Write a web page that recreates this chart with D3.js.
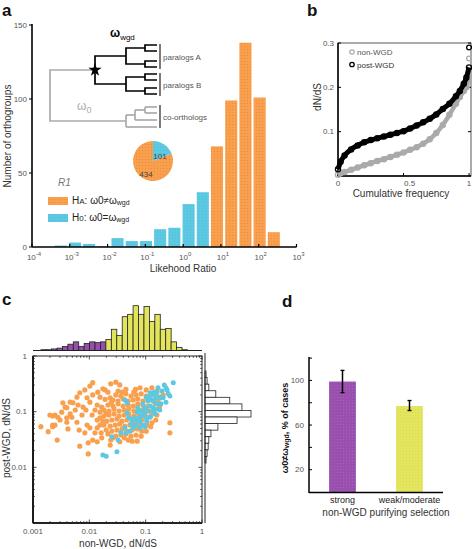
<!DOCTYPE html>
<html><head><meta charset="utf-8">
<script src="https://cdn.jsdelivr.net/npm/d3@7"></script>
<style>
body{margin:0;background:#fff}
svg{display:block;font-family:"Liberation Sans",Arial,Helvetica,sans-serif}
</style></head><body>
<svg id="fig" width="472" height="549"></svg>
<script>
// ---------------- DATA ----------------
// Panel a: likelihood-ratio histogram (bin centres in log10 LR)
const lrBinCentersLog10 = [-3.24,-2.864,-2.488,-2.112,-1.736,-1.36,-0.984,-0.608,-0.232,0.144,0.52,0.896,1.272,1.648,2.024,2.4];
const lrCounts = [1,3,2,0.5,6,4,4,12,13,29,37,68,99,138,101,10];
const lrModel = ["H0","H0","H0","H0","H0","H0","H0","H0","H0","H0","H0","HA","HA","HA","HA","HA"];
const lrXTicksExp = [-4,-3,-2,-1,0,1,2,3];
const lrYTicks = [0,50,100,150];
const pieGroups = ["HA","H0"];
const pieCounts = [434,101];

// Panel b: cumulative distributions of dN/dS
const cumFreq   = [0,0.02,0.05,0.1,0.15,0.2,0.25,0.3,0.35,0.4,0.45,0.5,0.55,0.6,0.65,0.7,0.75,0.8,0.85,0.9,0.93,0.96,0.98,1];
const postWgdDnds = [0.015,0.032,0.046,0.06,0.069,0.076,0.081,0.085,0.089,0.093,0.097,0.101,0.107,0.114,0.121,0.129,0.139,0.151,0.163,0.18,0.192,0.208,0.222,0.245];
const nonWgdDnds  = [0.003,0.006,0.009,0.014,0.019,0.024,0.029,0.034,0.038,0.043,0.048,0.053,0.059,0.065,0.073,0.083,0.097,0.115,0.138,0.163,0.178,0.192,0.2,0.22];
const postWgdTop = [0.29];
const nonWgdTop  = [0.265];
const bXTicks = [0,0.5,1];
const bYTicks = [0.1,0.2,0.3];

// Panel c: scatter, [log10 non-WGD dN/dS, log10 post-WGD dN/dS]
const haPointsLog10 = [
[-1.53,-0.47],[-1.94,-0.48],[-1.76,-0.59],[-1.67,-0.65],[-2.17,-0.66],[-2.22,-0.74],[-2.34,-0.83],[-2.29,-0.84],
[-2.04,-0.75],[-1.99,-0.83],[-1.94,-0.70],[-2.11,-0.92],[-2.43,-0.92],[-2.49,-1.01],[-2.56,-1.10],[-2.61,-1.06],
[-2.70,-1.06],[-2.61,-1.24],[-2.65,-1.27],[-2.86,-1.27],[-2.40,-1.11],[-2.31,-1.10],[-2.04,-1.24],[-1.99,-1.29],
[-1.86,-1.15],[-1.81,-1.01],[-1.90,-0.97],[-1.72,-0.61],[-1.99,-0.54],[-2.47,-0.84],[-2.40,-0.93],[-2.65,-1.08],
[-2.34,-1.04],[-1.81,-0.74],[-1.86,-0.88],[-2.57,-1.51],[-2.40,-1.19],[-2.38,-1.31],[-2.17,-1.62],[-2.02,-1.56],
[-2.02,-1.76],[-1.90,-1.38],[-1.86,-1.54],[-1.79,-1.38],[-2.08,-1.38],[-1.94,-1.51],[-1.78,-1.47],[-1.58,-1.47],
[-1.31,-1.51],[-1.24,-1.53],[-1.15,-1.53],[-0.98,-1.24],[-0.57,-1.38],[-0.89,-1.20],[-0.57,-1.20],[-2.65,-1.24],
[-2.25,-0.97],[-2.13,-1.06],[-2.08,-0.61],[-1.85,-0.65],[-1.63,-0.75],[-1.42,-0.65],[-1.21,-0.65],[-1.10,-0.57],
[-0.99,-0.61],[-0.89,-0.57],[-0.80,-0.63],[-1.46,-0.52],[-1.62,-0.50],[-2.52,-1.15],[-2.22,-1.19],[-2.18,-1.33],
[-1.63,-1.60],[-1.46,-1.54],[-1.74,-1.24],[-1.95,-1.06],[-2.06,-0.97],[-2.20,-0.88],[-2.73,-1.36],[-0.69,-0.70],
[-1.53,-0.70],[-1.44,-0.72],[-1.35,-0.68],[-1.26,-0.72],[-1.17,-0.70],[-1.08,-0.68],[-0.99,-0.72],[-0.91,-0.68],[-0.82,-0.72],[-0.73,-0.74],
[-1.58,-0.79],[-1.49,-0.81],[-1.40,-0.77],[-1.31,-0.81],[-1.22,-0.79],[-1.14,-0.77],[-1.05,-0.81],[-0.96,-0.79],[-0.87,-0.81],[-0.78,-0.79],
[-1.67,-0.88],[-1.58,-0.90],[-1.49,-0.86],[-1.40,-0.90],[-1.31,-0.88],[-1.22,-0.90],[-1.14,-0.86],[-1.05,-0.88],[-0.96,-0.90],[-0.83,-0.86],[-0.75,-0.90],
[-1.74,-0.97],[-1.65,-0.99],[-1.56,-0.95],[-1.47,-0.99],[-1.38,-0.97],[-1.30,-0.95],[-1.21,-0.99],[-1.12,-0.97],[-1.03,-0.95],[-0.94,-0.99],[-0.85,-0.97],
[-1.74,-1.08],[-1.65,-1.06],[-1.56,-1.04],[-1.47,-1.08],[-1.38,-1.06],[-1.30,-1.04],[-1.21,-1.08],[-1.12,-1.06],[-1.01,-1.06],[-0.91,-1.08],
[-1.69,-1.17],[-1.60,-1.15],[-1.51,-1.13],[-1.42,-1.17],[-1.33,-1.15],[-1.24,-1.13],[-1.15,-1.17],[-1.07,-1.15],[-0.98,-1.13],
[-1.63,-1.26],[-1.54,-1.24],[-1.46,-1.22],[-1.37,-1.26],[-1.28,-1.24],[-1.19,-1.22],[-1.10,-1.26],[-1.01,-1.24],
[-1.60,-1.35],[-1.51,-1.33],[-1.42,-1.31],[-1.33,-1.35],[-1.24,-1.33],[-1.15,-1.31],[-1.07,-1.35],
[-1.53,-1.44],[-1.44,-1.42],[-1.35,-1.40],[-1.26,-1.44],[-1.17,-1.42],
[-1.81,-1.11],[-1.76,-1.17],[-1.81,-1.24],[-1.70,-1.33],[-1.67,-1.40],[-1.86,-1.29],[-1.62,-1.51],[-1.38,-1.47],
[-1.08,-1.44],[-0.99,-1.35],[-0.91,-1.27],[-0.82,-1.15],[-0.80,-1.06],[-1.70,-1.03],[-1.61,-0.83],[-1.35,-0.60],
[-1.18,-0.60],[-1.49,-0.63],[-1.72,-0.78],[-1.78,-0.92]
];
const h0PointsLog10 = [
[-0.51,-0.48],[-0.67,-0.52],[-0.62,-0.61],[-0.60,-0.68],[-0.69,-0.75],[-0.80,-0.66],[-0.75,-0.74],[-0.89,-0.79],
[-0.83,-0.84],[-0.96,-0.81],[-1.05,-0.86],[-0.92,-0.90],[-0.87,-0.93],[-0.80,-0.95],[-0.96,-0.99],[-1.03,-1.02],
[-1.07,-1.08],[-1.15,-1.01],[-1.24,-1.15],[-1.19,-1.11],[-1.10,-1.18],[-1.33,-0.84],[-1.37,-0.79],[-1.33,-1.02],
[-1.22,-1.29],[-1.10,-1.29],[-1.01,-1.27],[-1.28,-1.35],[-1.26,-1.22],[-1.37,-1.29],[-1.35,-1.38],[-1.60,-1.45],
[-1.76,-1.78],[-1.70,-1.80],[-1.51,-1.72],[-0.57,-0.72],[-0.64,-0.83],[-0.73,-0.86],[-0.75,-0.97],[-0.83,-1.04],
[-0.92,-1.10],[-0.98,-1.17],[-1.14,-0.93],[-0.99,-0.74],[-0.92,-0.66],[-0.78,-0.57],[-0.71,-0.63],[-0.64,-0.57],
[-0.82,-0.75],[-1.01,-0.93],[-1.10,-1.10],[-1.17,-1.24],[-0.89,-0.70],[-1.44,-1.38],[-1.49,-1.51],
[-0.87,-1.01],[-0.99,-1.10],[-0.78,-0.86],[-0.71,-0.75],[-1.08,-0.99],[-0.94,-0.75],[-0.85,-0.65],[-1.17,-1.15],
[-1.05,-1.24],[-1.30,-1.11]
];
const cTicks = [0.001,0.01,0.1,1];
const cTickLabels = ["0.001","0.01","0.1","1"];
// top marginal histogram (non-WGD), bin left edges in log10 and counts
const nonWgdBinLeftLog10 = [-2.86,-2.77,-2.67,-2.574,-2.478,-2.381,-2.285,-2.188,-2.092,-1.995,-1.899,-1.802,-1.706,-1.609,-1.513,-1.416,-1.320,-1.223,-1.127,-1.030,-0.934,-0.837,-0.741,-0.644,-0.548,-0.451,-0.355];
const nonWgdBinCounts   = [1,1,2,3,5,8,11,5,9,11,10,11,14,27,19,43,46,57,46,56,37,46,27,28,11,4,1];
const nonWgdBinWidthLog10 = 0.0965;
const strongThresholdLog10 = -1.706;
// right marginal histogram (post-WGD), bin upper edges in log10 and counts
const postWgdBinTopLog10 = [-0.27,-0.388,-0.506,-0.624,-0.742,-0.86,-0.978,-1.096,-1.214,-1.332,-1.45,-1.568,-1.686,-1.804];
const postWgdBinCounts   = [3,6,11,31,71,106,132,92,37,17,11,9,6,3];
const postWgdBinWidthLog10 = 0.118;

// Panel d
const dCategories = ["strong","weak/moderate"];
const dValues = [99,77];
const dErrLow = [89,73];
const dErrHigh = [109,82];
const dYTicks = [20,40,60,80,100,120];
const dYLabels = [20,60,100];

// ---------------- DRAWING ----------------
const svg = d3.select("#fig");
const ORANGE = "#F9A04F", BLUE = "#5CC8E2", PURPLE = "#9450AB", YELLOW = "#E2E45B";
const TXT = "#333", TICKTXT = "#555";
const defs = svg.append("defs");
function pat(id, base, dot){
  const p = defs.append("pattern").attr("id",id).attr("width",3).attr("height",3).attr("patternUnits","userSpaceOnUse");
  p.append("rect").attr("width",3).attr("height",3).attr("fill",base);
  p.append("rect").attr("x",1).attr("y",1).attr("width",1).attr("height",1).attr("fill",dot);
}
pat("pOrange", ORANGE, "#EC8A3E");
pat("pBlue", BLUE, "#55BFD8");
pat("pPurple", "#9A4EAE", "#A763B9");
pat("pYellow", "#E3E55C", "#D8DB58");

function panelLabel(t,x,y){ svg.append("text").attr("x",x).attr("y",y).attr("font-size",17).attr("font-weight","bold").attr("fill","#111").text(t); }
panelLabel("a",2,16); panelLabel("b",307,16); panelLabel("c",2,305); panelLabel("d",282,307);

// ===== Panel a =====
const xA = d3.scaleLog().domain([1e-4,1e3]).range([32,296.5]);
const yA = d3.scaleLinear().domain([0,150]).range([247,25]);
const gA = svg.append("g");
gA.selectAll("rect.bar").data(lrCounts).join("rect")
  .attr("x",(d,i)=>xA(Math.pow(10,lrBinCentersLog10[i]-0.16)))
  .attr("width",(d,i)=>xA(Math.pow(10,lrBinCentersLog10[i]+0.16))-xA(Math.pow(10,lrBinCentersLog10[i]-0.16)))
  .attr("y",d=>yA(d)).attr("height",d=>yA(0)-yA(d))
  .attr("fill",(d,i)=>lrModel[i]==="HA"?"url(#pOrange)":"url(#pBlue)");
gA.append("line").attr("x1",xA(1e-4)).attr("x2",xA(1e3)).attr("y1",yA(0)).attr("y2",yA(0)).attr("stroke","#000").attr("stroke-width",1.6);
gA.append("line").attr("x1",32).attr("x2",32).attr("y1",yA(150)-1).attr("y2",yA(0)).attr("stroke","#000").attr("stroke-width",1.6);
lrXTicksExp.forEach(e=>{
  const x = xA(Math.pow(10,e));
  gA.append("line").attr("x1",x).attr("x2",x).attr("y1",yA(0)).attr("y2",yA(0)-3).attr("stroke","#000").attr("stroke-width",1.2);
  const t = gA.append("text").attr("x",x+2).attr("y",260).attr("text-anchor","middle").attr("font-size",8).attr("fill",TICKTXT);
  t.append("tspan").text("10");
  t.append("tspan").attr("dy",-4).attr("font-size",6).text(e);
});
lrYTicks.forEach(v=>{
  gA.append("line").attr("x1",29).attr("x2",32).attr("y1",yA(v)).attr("y2",yA(v)).attr("stroke","#000");
  gA.append("text").attr("x",27).attr("y",yA(v)).attr("dy","0.35em").attr("text-anchor","end").attr("font-size",8).attr("fill",TICKTXT).text(v);
});
gA.append("text").attr("transform","translate(11,136) rotate(-90)").attr("text-anchor","middle").attr("font-size",10).attr("fill",TXT).text("Number of orthogroups");
gA.append("text").attr("x",183).attr("y",272).attr("text-anchor","middle").attr("font-size",10).attr("fill",TXT).text("Likehood Ratio");

// tree inset
const GRAY = "#ababab";
function seg(pts,color,w){ gA.append("path").attr("d",d3.line()(pts)).attr("fill","none").attr("stroke",color).attr("stroke-width",w||1.7); }
seg([[95,70],[50,70],[50,121],[126,121]],GRAY);
seg([[126,115],[126,127]],GRAY); seg([[126,127],[157,127]],GRAY); seg([[126,115],[135,115]],GRAY);
seg([[135,110],[135,120]],GRAY); seg([[135,120],[157,120]],GRAY); seg([[135,110],[145,110]],GRAY);
seg([[145,107],[145,113]],GRAY); seg([[145,107],[157,107]],GRAY); seg([[145,113],[157,113]],GRAY);
seg([[126,56],[95,56],[95,84],[126,84]],"#000");
seg([[145,48],[126,48],[126,64],[145,64]],"#000");
seg([[157,45],[145,45],[145,51],[157,51]],"#000");
seg([[157,61],[145,61],[145,67],[157,67]],"#000");
seg([[145,77],[126,77],[126,91],[145,91]],"#000");
seg([[157,74],[145,74],[145,80],[157,80]],"#000");
seg([[157,88],[145,88],[145,94],[157,94]],"#000");
seg([[160,44],[160,69]],"#333",1.3); seg([[160,73],[160,96]],"#333",1.3); seg([[160,105],[160,128]],"#333",1.3);
gA.append("path").attr("d",d3.symbol(d3.symbolStar).size(55)()).attr("transform","translate(95,70)").attr("fill","#000");
[["paralogs A",60],["paralogs B",88],["co-orthologs",120]].forEach(([t,y])=>{
  gA.append("text").attr("x",163).attr("y",y).attr("font-size",8).attr("fill","#555").text(t);
});
{ const t = gA.append("text").attr("x",110).attr("y",37).attr("font-size",12).attr("font-weight","bold").attr("fill","#000");
  t.append("tspan").text("ω"); t.append("tspan").attr("dy",3).attr("font-size",8).attr("font-weight","normal").text("wgd"); }
{ const t = gA.append("text").attr("x",77).attr("y",110).attr("font-size",12).attr("fill",GRAY);
  t.append("tspan").text("ω"); t.append("tspan").attr("dy",3).attr("font-size",9).text("0"); }

// pie
const pie = d3.pie().sort(null).startAngle(2*Math.PI*pieCounts[1]/d3.sum(pieCounts)).endAngle(2*Math.PI*(1+pieCounts[1]/d3.sum(pieCounts)));
const arcs = pie(pieCounts);
const arc = d3.arc().innerRadius(0).outerRadius(20);
const gPie = gA.append("g").attr("transform","translate(153,161)");
gPie.selectAll("path").data(arcs).join("path").attr("d",arc)
  .attr("fill",(d,i)=>pieGroups[i]==="HA"?"url(#pOrange)":"url(#pBlue)");
const lblArc = d3.arc().innerRadius(9).outerRadius(9);
gPie.selectAll("text").data(arcs).join("text")
  .attr("transform",(d,i)=>{ const c = lblArc.centroid(d); return i===1?`translate(${c[0]+2},${c[1]+3})`:`translate(${c[0]-2},${c[1]+6})`; })
  .attr("text-anchor","middle").attr("dy","0.35em").attr("font-size",8).attr("fill","#444").text(d=>d.data);

gA.append("text").attr("x",58).attr("y",186).attr("font-size",10).attr("font-style","italic").attr("fill","#777").text("R1");
function legA(y, fill, sub, rel){
  gA.append("rect").attr("x",48).attr("y",y-7).attr("width",20).attr("height",8).attr("fill",fill);
  const t = gA.append("text").attr("x",72).attr("y",y).attr("font-size",10).attr("fill","#222");
  t.append("tspan").text("H"); t.append("tspan").attr("font-size",8).text(sub);
  t.append("tspan").text(": ω0"+rel+"ω"); t.append("tspan").attr("font-size",7).attr("dy",1).text("wgd");
}
legA(204,"url(#pOrange)","A","≠");
legA(221,"url(#pBlue)","0","=");

// ===== Panel b =====
const xB = d3.scaleLinear().domain([0,1.015]).range([338,471]);
const yB = d3.scaleLinear().domain([0,0.3]).range([176,43]);
const gB = svg.append("g");
gB.append("rect").attr("x",338).attr("y",43).attr("width",133).attr("height",133).attr("fill","none").attr("stroke","#444").attr("stroke-width",0.9);
gB.append("line").attr("x1",338).attr("x2",338).attr("y1",43).attr("y2",176).attr("stroke","#000").attr("stroke-width",1.5);
gB.append("line").attr("x1",338).attr("x2",471).attr("y1",176).attr("y2",176).attr("stroke","#000").attr("stroke-width",1.5);
bYTicks.forEach(v=>{
  gB.append("line").attr("x1",338).attr("x2",341).attr("y1",yB(v)).attr("y2",yB(v)).attr("stroke","#000");
  gB.append("line").attr("x1",468).attr("x2",471).attr("y1",yB(v)).attr("y2",yB(v)).attr("stroke","#000");
  gB.append("text").attr("x",334).attr("y",yB(v)).attr("dy","0.35em").attr("text-anchor","end").attr("font-size",8).attr("fill",TICKTXT).text(v.toFixed(1));
});
bXTicks.forEach(v=>{
  gB.append("line").attr("x1",xB(v)).attr("x2",xB(v)).attr("y1",176).attr("y2",173).attr("stroke","#000");
  gB.append("text").attr("x",xB(v)+(v===0.5?6:0)).attr("y",186).attr("text-anchor","middle").attr("font-size",8).attr("fill",TICKTXT).text(v===1?"1":v===0?"0":"0.5");
});
function cdf(vals, extra, color, lw){
  const pts = vals.map((v,i)=>[xB(cumFreq[i]),yB(v)]);
  gB.append("path").attr("d",d3.line().curve(d3.curveMonotoneX)(pts)).attr("fill","none").attr("stroke",color).attr("stroke-width",lw);
  gB.selectAll(null).data(vals).join("circle").attr("cx",(d,i)=>xB(cumFreq[i])).attr("cy",d=>yB(d)).attr("r",2.6)
    .attr("fill","none").attr("stroke",color).attr("stroke-width",1.3);
  gB.selectAll(null).data(extra).join("circle").attr("cx",xB(1)).attr("cy",d=>yB(d)).attr("r",2.4)
    .attr("fill","none").attr("stroke",color).attr("stroke-width",1.3);
}
cdf(nonWgdDnds, nonWgdTop, "#aaaaaa", 4.5);
cdf(postWgdDnds, postWgdTop, "#000", 5);
gB.append("circle").attr("cx",352).attr("cy",52).attr("r",2.2).attr("fill","none").attr("stroke","#aaa").attr("stroke-width",1.2);
gB.append("text").attr("x",357).attr("y",55).attr("font-size",8).attr("fill","#555").text("non-WGD");
gB.append("circle").attr("cx",352).attr("cy",64.5).attr("r",2.2).attr("fill","none").attr("stroke","#000").attr("stroke-width",1.3);
gB.append("text").attr("x",357).attr("y",67.5).attr("font-size",8).attr("fill","#333").text("post-WGD");
gB.append("text").attr("transform","translate(321,97) rotate(-90)").attr("text-anchor","middle").attr("font-size",10).attr("fill",TXT).text("dN/dS");
gB.append("text").attr("x",401).attr("y",197).attr("text-anchor","middle").attr("font-size",10).attr("fill",TXT).text("Cumulative frequency");

// ===== Panel c =====
const xC = d3.scaleLog().domain([1e-3,1]).range([33,202]);
const yC = d3.scaleLog().domain([1e-3,1]).range([523,356]);
const gC = svg.append("g");
gC.selectAll("circle.ha").data(haPointsLog10).join("circle").attr("class","ha")
  .attr("cx",d=>xC(Math.pow(10,d[0]))).attr("cy",d=>yC(Math.pow(10,d[1]))).attr("r",2.6).attr("fill",ORANGE);
gC.selectAll("circle.h0").data(h0PointsLog10).join("circle").attr("class","h0")
  .attr("cx",d=>xC(Math.pow(10,d[0]))).attr("cy",d=>yC(Math.pow(10,d[1]))).attr("r",2.5).attr("fill",BLUE);
gC.append("rect").attr("x",33).attr("y",356).attr("width",169).attr("height",167).attr("fill","none").attr("stroke","#222").attr("stroke-width",1);
gC.append("line").attr("x1",33).attr("x2",33).attr("y1",356).attr("y2",523).attr("stroke","#000").attr("stroke-width",1.6);
gC.append("line").attr("x1",33).attr("x2",202).attr("y1",523).attr("y2",523).attr("stroke","#000").attr("stroke-width",1.6);
xC.ticks().forEach(v=>{
  const major = cTicks.some(t=>Math.abs(t-v)/v<1e-6), L = major?3.5:1.8;
  const x = xC(v), y = yC(v);
  gC.append("line").attr("x1",x).attr("x2",x).attr("y1",523).attr("y2",523-L).attr("stroke","#222").attr("stroke-width",0.8);
  gC.append("line").attr("x1",x).attr("x2",x).attr("y1",356).attr("y2",356+L).attr("stroke","#222").attr("stroke-width",0.8);
  gC.append("line").attr("y1",y).attr("y2",y).attr("x1",33).attr("x2",33+L).attr("stroke","#222").attr("stroke-width",0.8);
  gC.append("line").attr("y1",y).attr("y2",y).attr("x1",202).attr("x2",202-L).attr("stroke","#222").attr("stroke-width",0.8);
});
cTicks.forEach((v,i)=>{
  gC.append("text").attr("x",xC(v)).attr("y",534).attr("text-anchor","middle").attr("font-size",8).attr("fill",TICKTXT).text(cTickLabels[i]);
  if (v>0.001) gC.append("text").attr("x",27).attr("y",yC(v)).attr("dy","0.35em").attr("text-anchor","end").attr("font-size",8).attr("fill",TICKTXT).text(cTickLabels[i]);
});
gC.append("text").attr("transform","translate(10,438) rotate(-90)").attr("text-anchor","middle").attr("font-size",10).attr("fill",TXT).text("post-WGD, dN/dS");
gC.append("text").attr("x",118).attr("y",547).attr("text-anchor","middle").attr("font-size",10).attr("fill",TXT).text("non-WGD, dN/dS");
const yTop = d3.scaleLinear().domain([0,57]).range([350.5,305.7]);
gC.selectAll("rect.top").data(nonWgdBinCounts).join("rect").attr("class","top")
  .attr("x",(d,i)=>xC(Math.pow(10,nonWgdBinLeftLog10[i])))
  .attr("width",(d,i)=>xC(Math.pow(10,nonWgdBinLeftLog10[i]+nonWgdBinWidthLog10))-xC(Math.pow(10,nonWgdBinLeftLog10[i])))
  .attr("y",d=>yTop(d)).attr("height",d=>yTop(0)-yTop(d))
  .attr("fill",(d,i)=>nonWgdBinLeftLog10[i]<strongThresholdLog10-1e-6?PURPLE:YELLOW).attr("stroke","#222").attr("stroke-width",0.8);
gC.append("line").attr("x1",33).attr("x2",202).attr("y1",350.5).attr("y2",350.5).attr("stroke","#222").attr("stroke-width",1);
const xR = d3.scaleLinear().domain([0,132]).range([205,251]);
gC.selectAll("rect.right").data(postWgdBinCounts).join("rect").attr("class","right")
  .attr("y",(d,i)=>yC(Math.pow(10,postWgdBinTopLog10[i])))
  .attr("height",(d,i)=>yC(Math.pow(10,postWgdBinTopLog10[i]-postWgdBinWidthLog10))-yC(Math.pow(10,postWgdBinTopLog10[i])))
  .attr("x",xR(0)).attr("width",d=>xR(d)-xR(0))
  .attr("fill","#fff").attr("stroke","#222").attr("stroke-width",0.8);
gC.append("line").attr("x1",205).attr("x2",205).attr("y1",353).attr("y2",523).attr("stroke","#222").attr("stroke-width",1);

// ===== Panel d =====
const xD = d3.scaleBand().domain(dCategories).range([309,443]).paddingInner(0.6).paddingOuter(0.3);
const yD = d3.scaleLinear().domain([0,121]).range([492,357]);
const gD = svg.append("g");
gD.selectAll("rect").data(dValues).join("rect")
  .attr("x",(d,i)=>xD(dCategories[i])).attr("width",xD.bandwidth())
  .attr("y",d=>yD(d)).attr("height",d=>yD(0)-yD(d))
  .attr("fill",(d,i)=>i===0?"url(#pPurple)":"url(#pYellow)");
dValues.forEach((d,i)=>{
  const cx = xD(dCategories[i])+xD.bandwidth()/2;
  gD.append("line").attr("x1",cx).attr("x2",cx).attr("y1",yD(dErrLow[i])).attr("y2",yD(dErrHigh[i])).attr("stroke","#000").attr("stroke-width",1.5);
  [dErrLow[i],dErrHigh[i]].forEach(v=>gD.append("line").attr("x1",cx-2).attr("x2",cx+2).attr("y1",yD(v)).attr("y2",yD(v)).attr("stroke","#000").attr("stroke-width",1.3));
  gD.append("text").attr("x",cx).attr("y",503).attr("text-anchor","middle").attr("font-size",9).attr("fill","#222").text(dCategories[i]);
});
gD.append("line").attr("x1",309).attr("x2",309).attr("y1",357).attr("y2",493).attr("stroke","#000").attr("stroke-width",1.5);
gD.append("line").attr("x1",309).attr("x2",443).attr("y1",492.5).attr("y2",492.5).attr("stroke","#000").attr("stroke-width",1.5);
dYTicks.forEach(v=>{
  gD.append("line").attr("x1",309).attr("x2",312).attr("y1",yD(v)).attr("y2",yD(v)).attr("stroke","#000");
  if (dYLabels.includes(v)) gD.append("text").attr("x",304).attr("y",yD(v)).attr("dy","0.35em").attr("text-anchor","end").attr("font-size",8).attr("fill",TICKTXT).text(v);
});
{ const t = gD.append("text").attr("transform","translate(288,428) rotate(-90)").attr("text-anchor","middle").attr("font-size",9).attr("font-weight","bold").attr("fill","#111");
  t.append("tspan").text("ω0≠ω"); t.append("tspan").attr("font-size",7).attr("dy",1).text("wgd"); t.append("tspan").attr("dy",-1).text(", % of cases"); }
gD.append("text").attr("x",386).attr("y",516).attr("text-anchor","middle").attr("font-size",10).attr("fill",TXT).text("non-WGD purifying selection");
</script>
</body></html>
